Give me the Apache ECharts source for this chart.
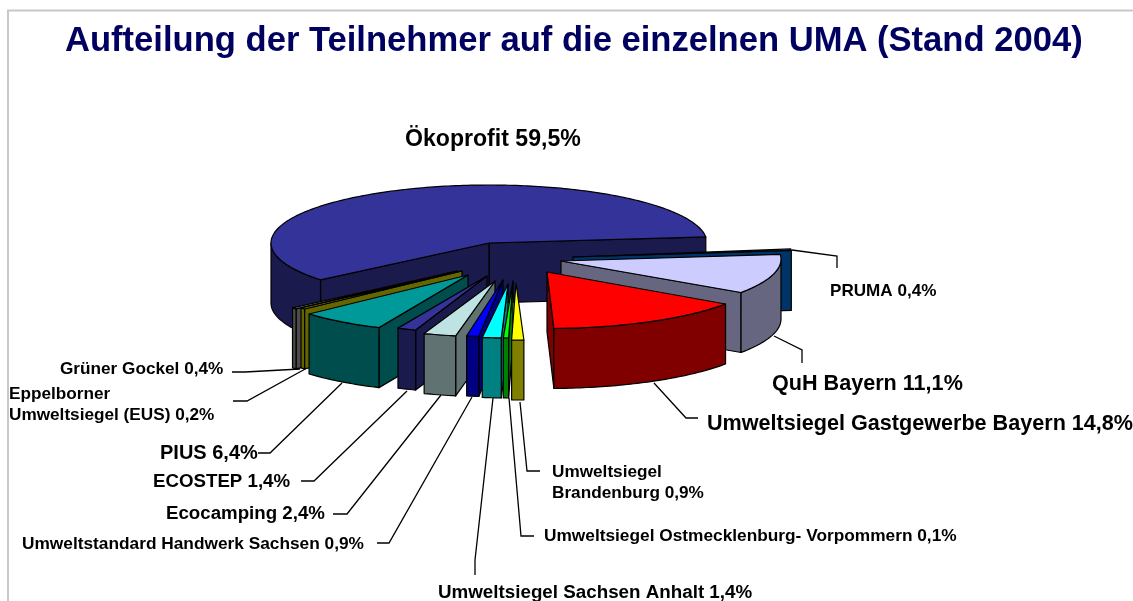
<!DOCTYPE html>
<html>
<head>
<meta charset="utf-8">
<style>html,body{margin:0;padding:0;background:#fff}#c{width:1133px;height:601px}</style>
<script src="https://cdn.jsdelivr.net/npm/echarts@6/dist/echarts.min.js"></script>
</head>
<body>
<div id="c"></div>
<script>
// ---- data (counter-clockwise from the right, as in the source chart)
var categories = [
  'Ökoprofit', 'Grüner Gockel', 'Eppelborner\nUmweltsiegel (EUS)', 'PIUS', 'ECOSTEP', 'Ecocamping',
  'Umweltstandard Handwerk Sachsen', 'Umweltsiegel Sachsen Anhalt', 'Umweltsiegel Ostmecklenburg- Vorpommern',
  'Umweltsiegel\nBrandenburg', 'Umweltsiegel Gastgewerbe Bayern', 'QuH Bayern', 'PRUMA'
];
var shares = [59.5, 0.4, 0.2, 6.4, 1.4, 2.4, 0.9, 1.4, 0.1, 0.9, 14.8, 11.1, 0.4];

// ---- styles
var topColors  = ['#333399','#969696','#808000','#009999','#333399','#BFE3E3','#0000FF','#00FFFF','#00FF00','#FFFF00','#FF0000','#CCCCFF','#0066CC'];
var sideColors = ['#1A1A4D','#4B4B4B','#666600','#004D4D','#1A1A4D','#607272','#000080','#008080','#008000','#808000','#800000','#666680','#003366'];

// ---- layout of the 3D pie (explosion of each slice: arc centre and tip, paint order)
var RX = 218, RY = 58, DEPTH = 60, START_ANGLE = 6, MIN_ANGLE = 1.4;
var arcCentres = [[489,243],[461,271],[466,270],[470.5,275],[489.5,275.5],[498,279],[509,279],[512.5,280],[514.5,280],[517.5,282],[547.5,270.5],[563,259],[574,255]];
var tips       = [[489,243],[457,271],[462,271],[468,275],[487,276],[495,281],[503,280],[508,284],[513,281],[516,283],[547,272],[561,261],[573,257]];
var paintOrder = [0,4,5,6,7,8,9,10,11,12,3,2,1];

// ---- label layout
var labelFonts = [23.1,17.2,17.2,20,18.7,18.7,17.3,18.8,17.3,17.2,21.6,21.6,17.1];
var labelPos = [[405,140],[60,369],[9,394],[160,453],[153,482],[166,514],[22,544],[438,593],[544,536],[552,472],[707,424],[772,384],[830,291]];
var leaders = [
  null,
  [[300,369],[245,372],[232,372]],
  [[307,368],[247,401],[233,401]],
  [[342,383],[270,453],[258,453]],
  [[407,391],[314,481],[301,481]],
  [[441,395],[347,514],[333,514]],
  [[472,397],[389,543],[377,543]],
  [[493,398],[475,560],[475,575]],
  [[509,398],[521,536],[534,536]],
  [[520,402],[527,471],[540,471]],
  [[654,383],[686,418],[698,418]],
  [[774,336],[802,350],[802,363]],
  [[792,250],[837,256],[837,268]]
];

function sliceAngles() {
  var sum = shares.reduce(function (a, b) { return a + b; }, 0);
  var raw = shares.map(function (v) { return v / sum * 360; });
  var extra = 0, big = 0;
  raw.forEach(function (a) { if (a < MIN_ANGLE) extra += MIN_ANGLE - a; else big += a; });
  var k = (big - extra) / big;
  var res = [], cur = START_ANGLE;
  raw.forEach(function (a) {
    var w = a < MIN_ANGLE ? MIN_ANGLE : a * k;
    res.push([cur, cur + w]);
    cur += w;
  });
  return res;
}
var angles = sliceAngles();

function pt(c, deg, dy) {
  var r = deg * Math.PI / 180;
  return [c[0] + RX * Math.cos(r), c[1] - RY * Math.sin(r) + (dy || 0)];
}
function arc(c, a, b, dy) {
  var out = [], n = Math.max(2, Math.ceil(Math.abs(b - a)));
  for (var i = 0; i <= n; i++) out.push(pt(c, a + (b - a) * i / n, dy));
  return out;
}
function poly(points, fill, z) {
  return { type: 'polygon', shape: { points: points }, z2: z,
    style: { fill: fill, stroke: '#000', lineWidth: 1.2, lineJoin: 'round' } };
}
function label(i) {
  return categories[i] + ' ' + shares[i].toFixed(1).replace('.', ',') + '%';
}

function renderItem(params, api) {
  var i = api.value(0);
  var a = angles[i][0], b = angles[i][1];
  var c = arcCentres[i], t = tips[i], tipB = [t[0], t[1] + DEPTH];
  var z = paintOrder[i] * 10;
  var kids = [];
  // cut faces facing the viewer
  if (Math.cos(a * Math.PI / 180) > 0) {
    kids.push(poly([t, pt(c, a), pt(c, a, DEPTH), tipB], sideColors[i], z));
  }
  if (Math.cos(b * Math.PI / 180) < 0) {
    kids.push(poly([t, pt(c, b), pt(c, b, DEPTH), tipB], sideColors[i], z + 1));
  }
  // front part of the rim
  var lo = Math.max(a, 180), hi = Math.min(b, 360);
  if (hi > lo) {
    kids.push(poly(arc(c, lo, hi, 0).concat(arc(c, hi, lo, DEPTH)), sideColors[i], z + 2));
  }
  // top face
  kids.push(poly([t].concat(arc(c, a, b, 0)), topColors[i], z + 3));
  // leader line and label
  if (leaders[i]) {
    kids.push({ type: 'polyline', shape: { points: leaders[i] }, z2: 200,
      style: { fill: null, stroke: '#000', lineWidth: 1.3 } });
  }
  kids.push({ type: 'text', z2: 201, style: {
    x: labelPos[i][0], y: labelPos[i][1] + (categories[i].indexOf('\n') >= 0 ? 11 : 0),
    text: label(i), fill: '#000', align: 'left', verticalAlign: 'middle',
    font: 'bold ' + labelFonts[i] + 'px "Liberation Sans", Arial, sans-serif',
    lineHeight: labelFonts[i] + 4
  } });
  return { type: 'group', children: kids };
}

var chart = echarts.init(document.getElementById('c'), null, { renderer: 'canvas' });
chart.setOption({
  animation: false,
  backgroundColor: '#fff',
  title: {
    text: 'Aufteilung der Teilnehmer auf die einzelnen UMA (Stand 2004)',
    left: 60, top: 19,
    textStyle: { color: '#000060', fontSize: 34.6, fontWeight: 'bold', fontFamily: '"Liberation Sans", Arial, sans-serif' }
  },
  graphic: [
    { type: 'polyline', silent: true, shape: { points: [[1133,10.5],[8,10.5],[8,601]] },
      style: { fill: null, stroke: '#C8C8C8', lineWidth: 2 } }
  ],
  series: [{
    type: 'custom',
    coordinateSystem: 'none',
    silent: true,
    clip: false,
    renderItem: renderItem,
    encode: { value: [1] },
    data: shares.map(function (v, i) { return [i, v]; })
  }]
});
</script>
</body>
</html>
